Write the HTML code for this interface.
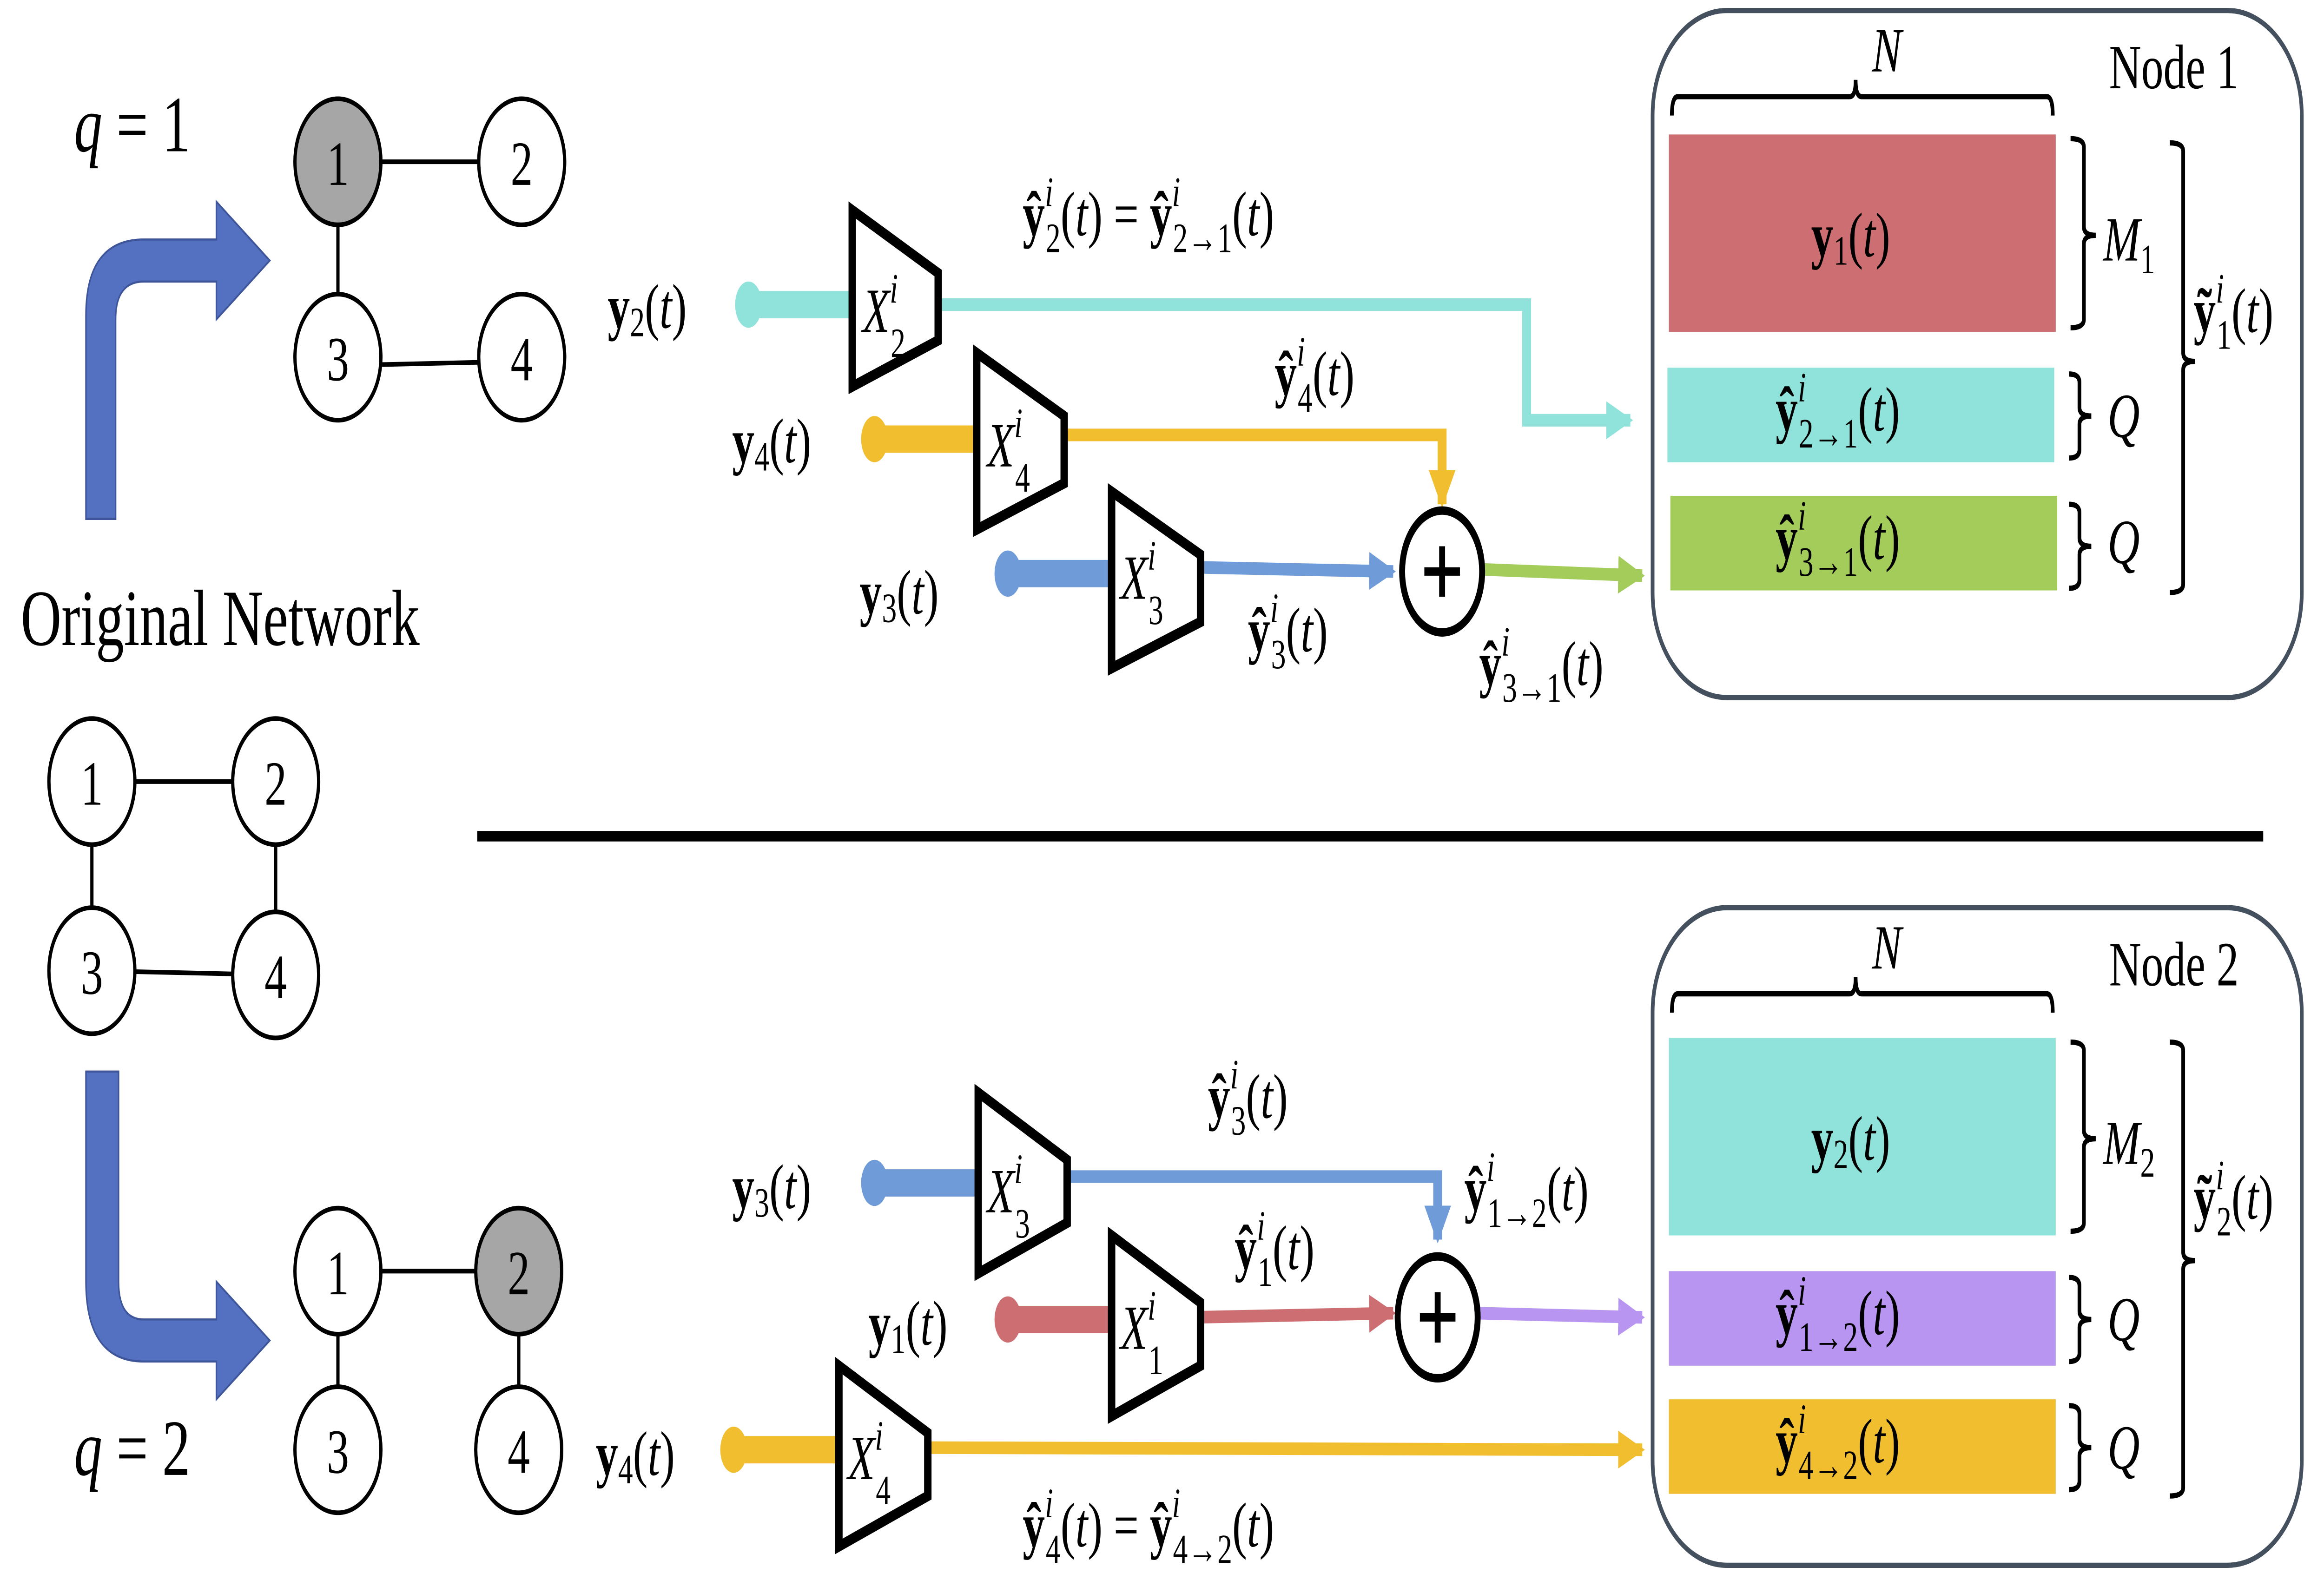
<!DOCTYPE html>
<html><head><meta charset="utf-8"><style>
html,body{margin:0;padding:0;background:#fff;overflow:hidden;width:100%;height:100%;}
svg{display:block;width:100vw;height:100vh;}
text{font-family:"Liberation Serif",serif;fill:#000;}
</style></head><body>
<svg viewBox="0 0 1568 752" preserveAspectRatio="none" xmlns="http://www.w3.org/2000/svg">
<defs>
<marker id="ah" viewBox="0 0 10 10" refX="9" refY="5" markerWidth="3" markerHeight="3" orient="auto" markerUnits="strokeWidth"><path d="M0,0 L10,5 L0,10 z" fill="context-stroke"/></marker>
</defs>
<rect width="1568" height="752" fill="#fff"/>

<g stroke="#000" stroke-width="2.2">
<line x1="228" y1="77" x2="350" y2="77"/><line x1="228" y1="77" x2="228" y2="172"/><line x1="228" y1="174" x2="350" y2="172"/>
<ellipse cx="228" cy="77" rx="29" ry="30" fill="#a6a6a6"/>
<ellipse cx="352" cy="77" rx="29" ry="30" fill="#fff"/>
<ellipse cx="228" cy="170" rx="29" ry="30" fill="#fff"/>
<ellipse cx="352" cy="170" rx="29" ry="30" fill="#fff"/>
</g>
<g font-size="30" text-anchor="middle">
<text x="228" y="88">1</text><text x="352" y="88">2</text><text x="228" y="181">3</text><text x="352" y="181">4</text></g>
<text x="50" y="72" font-size="38"><tspan font-style="italic">q</tspan> = 1</text>

<path d="M58,247 L58,150 Q58,114 97,114 L146,114 L146,96 L182,124 L146,152 L146,134 L97,134 Q78,134 78,152 L78,247 Z" fill="#5470c0" stroke="#3e559a" stroke-width="1"/>
<text x="14" y="307" font-size="38">Original Network</text>

<g stroke="#000" stroke-width="2.2">
<line x1="62" y1="372" x2="186" y2="372"/><line x1="62" y1="372" x2="62" y2="462"/><line x1="186" y1="372" x2="186" y2="462"/><line x1="62" y1="462" x2="186" y2="464"/>
<ellipse cx="62" cy="372" rx="29" ry="30" fill="#fff"/>
<ellipse cx="186" cy="372" rx="29" ry="30" fill="#fff"/>
<ellipse cx="62" cy="462" rx="29" ry="30" fill="#fff"/>
<ellipse cx="186" cy="464" rx="29" ry="30" fill="#fff"/>
</g>
<g font-size="30" text-anchor="middle"><text x="62" y="383">1</text><text x="186" y="383">2</text><text x="62" y="473">3</text><text x="186" y="475">4</text></g>

<path d="M58,510 L58,610 Q58,648 97,648 L146,648 L146,666 L182,638 L146,610 L146,628 L97,628 Q80,628 80,610 L80,510 Z" fill="#5470c0" stroke="#3e559a" stroke-width="1"/>

<g stroke="#000" stroke-width="2.2">
<line x1="228" y1="605" x2="350" y2="605"/><line x1="228" y1="605" x2="228" y2="690"/><line x1="350" y1="605" x2="350" y2="690"/>
<ellipse cx="228" cy="605" rx="29" ry="30" fill="#fff"/>
<ellipse cx="350" cy="605" rx="29" ry="30" fill="#a6a6a6"/>
<ellipse cx="228" cy="690" rx="29" ry="30" fill="#fff"/>
<ellipse cx="350" cy="690" rx="29" ry="30" fill="#fff"/>
</g>
<g font-size="30" text-anchor="middle"><text x="228" y="616">1</text><text x="350" y="616">2</text><text x="228" y="701">3</text><text x="350" y="701">4</text></g>
<text x="50" y="702" font-size="38"><tspan font-style="italic">q</tspan> = 2</text>

<line x1="322" y1="398" x2="1527" y2="398" stroke="#000" stroke-width="5"/>

<g>
<line x1="505" y1="145" x2="580" y2="145" stroke="#8fe3da" stroke-width="13"/>
<ellipse cx="505" cy="145" rx="9" ry="11" fill="#8fe3da"/>
<polyline points="630,145 1030,145 1030,200 1100,200" fill="none" stroke="#8fe3da" stroke-width="6" marker-end="url(#ah)"/>
</g>
<g>
<line x1="590" y1="209" x2="665" y2="209" stroke="#f0be2e" stroke-width="13"/>
<ellipse cx="590" cy="209" rx="9" ry="11" fill="#f0be2e"/>
<polyline points="715,207 973,207 973,240" fill="none" stroke="#f0be2e" stroke-width="6" marker-end="url(#ah)"/>
</g>
<g>
<line x1="680" y1="273" x2="755" y2="273" stroke="#6f9bd8" stroke-width="13"/>
<ellipse cx="680" cy="273" rx="9" ry="11" fill="#6f9bd8"/>
<line x1="805" y1="270" x2="940" y2="272" stroke="#6f9bd8" stroke-width="6" marker-end="url(#ah)"/>
</g>
<line x1="1000" y1="271" x2="1108" y2="274" stroke="#a3cc5a" stroke-width="6" marker-end="url(#ah)"/>

<g><ellipse cx="973" cy="272" rx="27" ry="29" fill="#fff" stroke="#000" stroke-width="4"/><path d="M973,260 V284 M961,272 H985" stroke="#000" stroke-width="4"/></g>

<polygon points="575,100 633,130 633,162 575,184" fill="#fff" stroke="#000" stroke-width="5"/>
<polygon points="659,168 718,198 718,230 659,252" fill="#fff" stroke="#000" stroke-width="5"/>
<polygon points="750,234 810,264 810,296 750,318" fill="#fff" stroke="#000" stroke-width="5"/>

<g font-size="30">
<text x="582" y="158" font-style="italic">X<tspan font-size="20" dy="-14">i</tspan><tspan font-size="20" dx="-5" dy="26" font-style="normal">2</tspan></text>
<text x="666" y="222" font-style="italic">X<tspan font-size="20" dy="-14">i</tspan><tspan font-size="20" dx="-5" dy="26" font-style="normal">4</tspan></text>
<text x="756" y="285" font-style="italic">X<tspan font-size="20" dy="-14">i</tspan><tspan font-size="20" dx="-5" dy="26" font-style="normal">3</tspan></text>
<text x="410" y="156"><tspan font-weight="bold">y</tspan><tspan font-size="20" dy="4">2</tspan><tspan dy="-4">(</tspan><tspan font-style="italic">t</tspan>)</text>
<text x="494" y="220"><tspan font-weight="bold">y</tspan><tspan font-size="20" dy="4">4</tspan><tspan dy="-4">(</tspan><tspan font-style="italic">t</tspan>)</text>
<text x="580" y="292"><tspan font-weight="bold">y</tspan><tspan font-size="20" dy="4">3</tspan><tspan dy="-4">(</tspan><tspan font-style="italic">t</tspan>)</text>
<text x="690" y="112"><tspan font-weight="bold">ŷ</tspan><tspan font-size="20" font-style="italic" dy="-14">i</tspan><tspan font-size="20" dx="-5" dy="22">2</tspan><tspan dy="-8">(</tspan><tspan font-style="italic">t</tspan>) = <tspan font-weight="bold">ŷ</tspan><tspan font-size="20" font-style="italic" dy="-14">i</tspan><tspan font-size="20" dx="-5" dy="22">2→1</tspan><tspan dy="-8">(</tspan><tspan font-style="italic">t</tspan>)</text>
<text x="860" y="188"><tspan font-weight="bold">ŷ</tspan><tspan font-size="20" font-style="italic" dy="-14">i</tspan><tspan font-size="20" dx="-5" dy="22">4</tspan><tspan dy="-8">(</tspan><tspan font-style="italic">t</tspan>)</text>
<text x="842" y="310"><tspan font-weight="bold">ŷ</tspan><tspan font-size="20" font-style="italic" dy="-14">i</tspan><tspan font-size="20" dx="-5" dy="22">3</tspan><tspan dy="-8">(</tspan><tspan font-style="italic">t</tspan>)</text>
<text x="998" y="326"><tspan font-weight="bold">ŷ</tspan><tspan font-size="20" font-style="italic" dy="-14">i</tspan><tspan font-size="20" dx="-5" dy="22">3→1</tspan><tspan dy="-8">(</tspan><tspan font-style="italic">t</tspan>)</text>
</g>

<rect x="1115" y="5" width="438" height="327" rx="50" fill="none" stroke="#44505e" stroke-width="2.5"/>
<path d="M1128,55 Q1128,46 1132,46 L1248,46 Q1252,46 1252,38 Q1252,46 1256,46 L1381,46 Q1385,46 1385,55" fill="none" stroke="#000" stroke-width="2.5"/>
<text x="1263" y="34" font-size="30" font-style="italic">N</text>
<text x="1423" y="42" font-size="30">Node 1</text>
<rect x="1126" y="64" width="261" height="94" fill="#cd6e72"/>
<rect x="1125" y="175" width="261" height="45" fill="#8fe3da"/>
<rect x="1127" y="236" width="261" height="45" fill="#a3cc5a"/>
<g font-size="30">
<text x="1222" y="122"><tspan font-weight="bold">y</tspan><tspan font-size="20" dy="4">1</tspan><tspan dy="-4">(</tspan><tspan font-style="italic">t</tspan>)</text>
<text x="1198" y="205"><tspan font-weight="bold">ŷ</tspan><tspan font-size="20" font-style="italic" dy="-14">i</tspan><tspan font-size="20" dx="-5" dy="22">2→1</tspan><tspan dy="-8">(</tspan><tspan font-style="italic">t</tspan>)</text>
<text x="1198" y="266"><tspan font-weight="bold">ŷ</tspan><tspan font-size="20" font-style="italic" dy="-14">i</tspan><tspan font-size="20" dx="-5" dy="22">3→1</tspan><tspan dy="-8">(</tspan><tspan font-style="italic">t</tspan>)</text>
<text x="1419" y="124" font-style="italic">M<tspan font-size="20" font-style="normal" dy="6">1</tspan></text>
<text x="1422" y="208" font-style="italic">Q</text>
<text x="1422" y="268" font-style="italic">Q</text>
<text x="1480" y="158"><tspan font-weight="bold">ỹ</tspan><tspan font-size="20" font-style="italic" dy="-14">i</tspan><tspan font-size="20" dx="-5" dy="22">1</tspan><tspan dy="-8">(</tspan><tspan font-style="italic">t</tspan>)</text>
</g>
<g fill="none" stroke="#000" stroke-width="2.5">
<path d="M1397,66 Q1406,66 1406,70 L1406,108 Q1406,112 1414,112 Q1406,112 1406,116 L1406,152 Q1406,156 1397,156"/>
<path d="M1396,178 Q1403,178 1403,182 L1403,194 Q1403,198 1411,198 Q1403,198 1403,202 L1403,214 Q1403,218 1396,218"/>
<path d="M1396,240 Q1403,240 1403,244 L1403,256 Q1403,260 1411,260 Q1403,260 1403,264 L1403,276 Q1403,280 1396,280"/>
<path d="M1464,68 Q1473,68 1473,72 L1473,168 Q1473,172 1481,172 Q1473,172 1473,176 L1473,278 Q1473,282 1464,282"/>
</g>

<g>
<line x1="590" y1="563" x2="665" y2="563" stroke="#6f9bd8" stroke-width="13"/>
<ellipse cx="590" cy="563" rx="9" ry="11" fill="#6f9bd8"/>
<polyline points="715,560 970,560 970,590" fill="none" stroke="#6f9bd8" stroke-width="6" marker-end="url(#ah)"/>
</g>
<g>
<line x1="680" y1="628" x2="755" y2="628" stroke="#cd6e72" stroke-width="13"/>
<ellipse cx="680" cy="628" rx="9" ry="11" fill="#cd6e72"/>
<line x1="805" y1="627" x2="940" y2="625" stroke="#cd6e72" stroke-width="6" marker-end="url(#ah)"/>
</g>
<line x1="997" y1="625" x2="1108" y2="627" stroke="#b795f0" stroke-width="6" marker-end="url(#ah)"/>
<g>
<line x1="495" y1="690" x2="570" y2="690" stroke="#f0be2e" stroke-width="13"/>
<ellipse cx="495" cy="690" rx="9" ry="11" fill="#f0be2e"/>
<line x1="620" y1="689" x2="1108" y2="690" stroke="#f0be2e" stroke-width="6" marker-end="url(#ah)"/>
</g>
<g><ellipse cx="970" cy="627" rx="27" ry="29" fill="#fff" stroke="#000" stroke-width="4"/><path d="M970,615 V639 M958,627 H982" stroke="#000" stroke-width="4"/></g>

<polygon points="660,520 720,552 720,582 660,606" fill="#fff" stroke="#000" stroke-width="5"/>
<polygon points="750,588 810,620 810,650 750,674" fill="#fff" stroke="#000" stroke-width="5"/>
<polygon points="566,650 626,682 626,712 566,736" fill="#fff" stroke="#000" stroke-width="5"/>

<g font-size="30">
<text x="666" y="577" font-style="italic">X<tspan font-size="20" dy="-14">i</tspan><tspan font-size="20" dx="-5" dy="26" font-style="normal">3</tspan></text>
<text x="756" y="642" font-style="italic">X<tspan font-size="20" dy="-14">i</tspan><tspan font-size="20" dx="-5" dy="26" font-style="normal">1</tspan></text>
<text x="572" y="704" font-style="italic">X<tspan font-size="20" dy="-14">i</tspan><tspan font-size="20" dx="-5" dy="26" font-style="normal">4</tspan></text>
<text x="494" y="575"><tspan font-weight="bold">y</tspan><tspan font-size="20" dy="4">3</tspan><tspan dy="-4">(</tspan><tspan font-style="italic">t</tspan>)</text>
<text x="586" y="640"><tspan font-weight="bold">y</tspan><tspan font-size="20" dy="4">1</tspan><tspan dy="-4">(</tspan><tspan font-style="italic">t</tspan>)</text>
<text x="402" y="702"><tspan font-weight="bold">y</tspan><tspan font-size="20" dy="4">4</tspan><tspan dy="-4">(</tspan><tspan font-style="italic">t</tspan>)</text>
<text x="815" y="532"><tspan font-weight="bold">ŷ</tspan><tspan font-size="20" font-style="italic" dy="-14">i</tspan><tspan font-size="20" dx="-5" dy="22">3</tspan><tspan dy="-8">(</tspan><tspan font-style="italic">t</tspan>)</text>
<text x="833" y="604"><tspan font-weight="bold">ŷ</tspan><tspan font-size="20" font-style="italic" dy="-14">i</tspan><tspan font-size="20" dx="-5" dy="22">1</tspan><tspan dy="-8">(</tspan><tspan font-style="italic">t</tspan>)</text>
<text x="988" y="576"><tspan font-weight="bold">ŷ</tspan><tspan font-size="20" font-style="italic" dy="-14">i</tspan><tspan font-size="20" dx="-5" dy="22">1→2</tspan><tspan dy="-8">(</tspan><tspan font-style="italic">t</tspan>)</text>
<text x="690" y="736"><tspan font-weight="bold">ŷ</tspan><tspan font-size="20" font-style="italic" dy="-14">i</tspan><tspan font-size="20" dx="-5" dy="22">4</tspan><tspan dy="-8">(</tspan><tspan font-style="italic">t</tspan>) = <tspan font-weight="bold">ŷ</tspan><tspan font-size="20" font-style="italic" dy="-14">i</tspan><tspan font-size="20" dx="-5" dy="22">4→2</tspan><tspan dy="-8">(</tspan><tspan font-style="italic">t</tspan>)</text>
</g>

<rect x="1115" y="432" width="438" height="313" rx="50" fill="none" stroke="#44505e" stroke-width="2.5"/>
<path d="M1128,482 Q1128,473 1132,473 L1248,473 Q1252,473 1252,465 Q1252,473 1256,473 L1381,473 Q1385,473 1385,482" fill="none" stroke="#000" stroke-width="2.5"/>
<text x="1263" y="461" font-size="30" font-style="italic">N</text>
<text x="1423" y="469" font-size="30">Node 2</text>
<rect x="1126" y="494" width="261" height="94" fill="#8fe3da"/>
<rect x="1126" y="605" width="261" height="45" fill="#b795f0"/>
<rect x="1126" y="666" width="261" height="45" fill="#f0be2e"/>
<g font-size="30">
<text x="1222" y="552"><tspan font-weight="bold">y</tspan><tspan font-size="20" dy="4">2</tspan><tspan dy="-4">(</tspan><tspan font-style="italic">t</tspan>)</text>
<text x="1198" y="635"><tspan font-weight="bold">ŷ</tspan><tspan font-size="20" font-style="italic" dy="-14">i</tspan><tspan font-size="20" dx="-5" dy="22">1→2</tspan><tspan dy="-8">(</tspan><tspan font-style="italic">t</tspan>)</text>
<text x="1198" y="696"><tspan font-weight="bold">ŷ</tspan><tspan font-size="20" font-style="italic" dy="-14">i</tspan><tspan font-size="20" dx="-5" dy="22">4→2</tspan><tspan dy="-8">(</tspan><tspan font-style="italic">t</tspan>)</text>
<text x="1419" y="554" font-style="italic">M<tspan font-size="20" font-style="normal" dy="6">2</tspan></text>
<text x="1422" y="638" font-style="italic">Q</text>
<text x="1422" y="699" font-style="italic">Q</text>
<text x="1480" y="580"><tspan font-weight="bold">ỹ</tspan><tspan font-size="20" font-style="italic" dy="-14">i</tspan><tspan font-size="20" dx="-5" dy="22">2</tspan><tspan dy="-8">(</tspan><tspan font-style="italic">t</tspan>)</text>
</g>
<g fill="none" stroke="#000" stroke-width="2.5">
<path d="M1397,496 Q1406,496 1406,500 L1406,538 Q1406,542 1414,542 Q1406,542 1406,546 L1406,582 Q1406,586 1397,586"/>
<path d="M1396,608 Q1403,608 1403,612 L1403,624 Q1403,628 1411,628 Q1403,628 1403,632 L1403,644 Q1403,648 1396,648"/>
<path d="M1396,669 Q1403,669 1403,673 L1403,685 Q1403,689 1411,689 Q1403,689 1403,693 L1403,705 Q1403,709 1396,709"/>
<path d="M1464,496 Q1473,496 1473,500 L1473,596 Q1473,600 1481,600 Q1473,600 1473,604 L1473,708 Q1473,712 1464,712"/>
</g>
</svg>
</body></html>
